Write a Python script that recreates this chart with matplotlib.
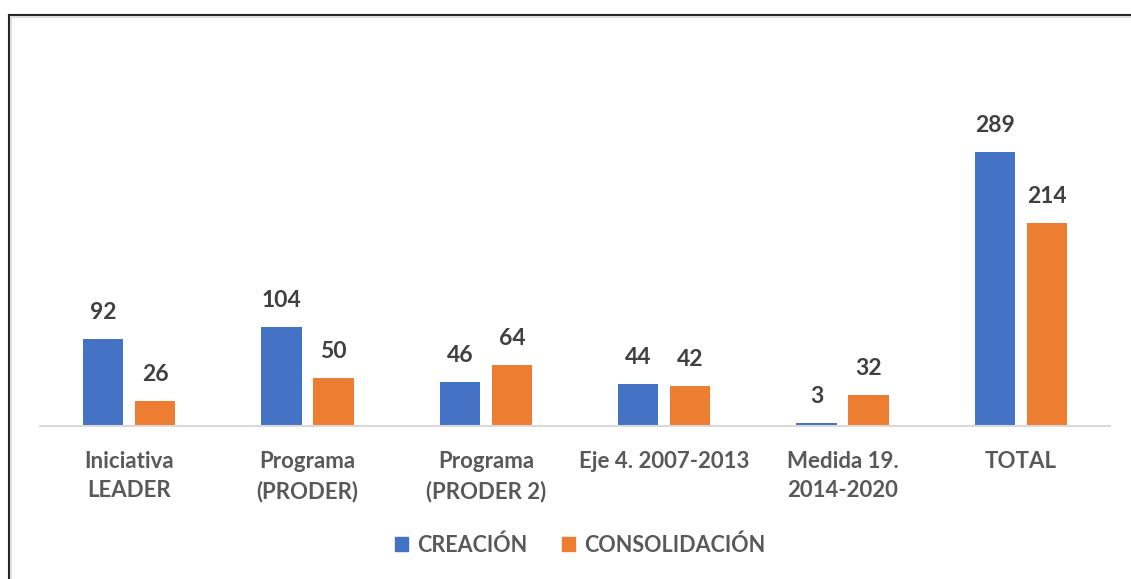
import matplotlib
matplotlib.use("Agg")
import matplotlib.pyplot as plt
import numpy as np
from matplotlib.lines import Line2D
from matplotlib.patches import Patch

categories = ["Iniciativa\nLEADER", "Programa\n(PRODER)", "Programa\n(PRODER 2)",
              "Eje 4. 2007-2013", "Medida 19.\n2014-2020", "TOTAL"]
creacion = [92, 104, 46, 44, 3, 289]
consolidacion = [26, 50, 64, 42, 32, 214]
series_names = ["CREACIÓN", "CONSOLIDACIÓN"]

BLUE = "#4472C4"
ORANGE = "#ED7D31"
plt.rcParams['font.family'] = ['Lato', 'DejaVu Sans']

W, H = 1131, 579
fig = plt.figure(figsize=(W / 100, H / 100), dpi=100)
ax = fig.add_axes([40 / W, (H - 425.5) / H, 1070 / W, 395.5 / H])

x = np.arange(len(categories))
bw = 0.225
off = 0.146
b1 = ax.bar(x - off, creacion, bw, color=BLUE, label=series_names[0])
b2 = ax.bar(x + off, consolidacion, bw, color=ORANGE, label=series_names[1])

for bars, vals in [(b1, creacion), (b2, consolidacion)]:
    for rect, v in zip(bars, vals):
        ax.annotate(str(v), (rect.get_x() + rect.get_width() / 2, rect.get_height()),
                    xytext=(0, 11.5), textcoords="offset points", ha="center", va="bottom",
                    fontsize=16.5, fontweight="bold", color="#404040")

ax.set_xlim(-0.5, len(categories) - 0.5)
ax.set_ylim(0, 418.5)
for s in ["top", "right", "left"]:
    ax.spines[s].set_visible(False)
ax.spines["bottom"].set_color("#D9D9D9")
ax.spines["bottom"].set_linewidth(1.5)
ax.set_yticks([])
ax.set_xticks(x)
ax.set_xticklabels(categories, fontsize=16, fontweight="bold", color="#595959",
                   linespacing=1.5)
ax.tick_params(axis="x", length=0, pad=18)
for lbl in ax.get_xticklabels():
    lbl.set_verticalalignment("top")

handles = [Patch(color=BLUE), Patch(color=ORANGE)]
fig.legend(handles, series_names, loc="center", bbox_to_anchor=(0.513, 1 - 545 / H),
           ncol=2, frameon=False, handlelength=0.6, handleheight=0.6,
           columnspacing=1.6, handletextpad=0.45,
           prop={"weight": "bold", "size": 15.5})
for t in fig.legends[0].get_texts():
    t.set_color("#595959")

# outer frame of the pasted chart
fig.add_artist(Line2D([8.5 / W, 8.5 / W], [0, 1 - 14.5 / H], color="#222222", lw=1.5))
fig.add_artist(Line2D([8.5 / W, 1], [1 - 14.5 / H, 1 - 14.5 / H], color="#222222", lw=1.5))
fig.add_artist(Line2D([10.5 / W, 10.5 / W], [0, 1 - 16.5 / H], color="#DDDDDD", lw=1.5))
fig.add_artist(Line2D([10.5 / W, 1], [1 - 16.5 / H, 1 - 16.5 / H], color="#DDDDDD", lw=1.5))

fig.savefig("out.png", dpi=100)
